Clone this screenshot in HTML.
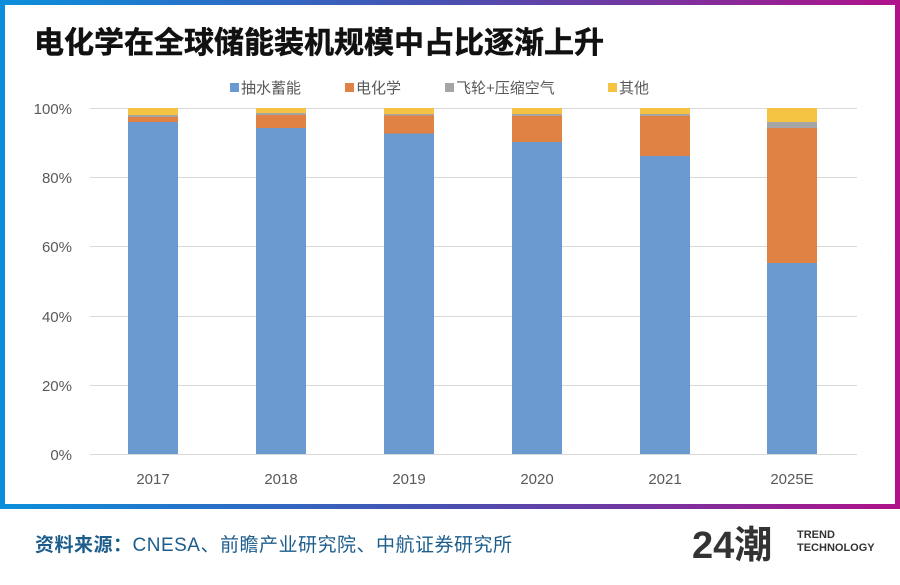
<!DOCTYPE html>
<html><head><meta charset="utf-8"><style>
body{margin:0;width:900px;height:585px;background:#fff;position:relative;overflow:hidden;font-family:"Liberation Sans","Noto Sans CJK SC",sans-serif}
.frame{position:absolute;left:0;top:0;width:900px;height:509px;background:linear-gradient(90deg,#0a8fdc,#4a4fb0 50%,#b0128a)}
.inner{position:absolute;left:5px;top:5px;width:890px;height:499px;background:#fff}
</style></head><body>
<div class="frame"><div class="inner"></div></div>
<svg width="900" height="585" style="position:absolute;left:0;top:0" font-family="Liberation Sans, Noto Sans CJK SC, sans-serif">
<text x="34" y="53" font-size="30" font-weight="bold" fill="#111" stroke="#111" stroke-width="0.5">电化学在全球储能装机规模中占比逐渐上升</text>
<g font-size="15" fill="#595959">
<rect x="230" y="83" width="9" height="9" fill="#6a9ad0"/><text x="241" y="93">抽水蓄能</text>
<rect x="345" y="83" width="9" height="9" fill="#e08244"/><text x="356" y="93">电化学</text>
<rect x="445" y="83" width="9" height="9" fill="#a5a5a5"/><text x="456" y="93">飞轮+压缩空气</text>
<rect x="608" y="83" width="9" height="9" fill="#f5c342"/><text x="619" y="93">其他</text>
</g>
<g stroke="#d9d9d9" stroke-width="1">
<line x1="90" x2="857" y1="108.5" y2="108.5"/><line x1="90" x2="857" y1="177.5" y2="177.5"/><line x1="90" x2="857" y1="246.5" y2="246.5"/><line x1="90" x2="857" y1="316.5" y2="316.5"/><line x1="90" x2="857" y1="385.5" y2="385.5"/><line x1="90" x2="857" y1="454.5" y2="454.5"/>
</g>
<g font-size="15" fill="#595959" text-anchor="end">
<text x="72" y="114">100%</text><text x="72" y="183">80%</text><text x="72" y="252">60%</text><text x="72" y="322">40%</text><text x="72" y="391">20%</text><text x="72" y="460">0%</text>
</g>
<g>
<rect x="128" y="108" width="50" height="7" fill="#f5c342"/><rect x="128" y="115" width="50" height="2" fill="#a5a5a5"/><rect x="128" y="117" width="50" height="5" fill="#e08244"/><rect x="128" y="122" width="50" height="332" fill="#6a9ad0"/>
<rect x="256" y="108" width="50" height="5" fill="#f5c342"/><rect x="256" y="113" width="50" height="2" fill="#a5a5a5"/><rect x="256" y="115" width="50" height="13" fill="#e08244"/><rect x="256" y="128" width="50" height="326" fill="#6a9ad0"/>
<rect x="384" y="108" width="50" height="6" fill="#f5c342"/><rect x="384" y="114" width="50" height="1.5" fill="#a5a5a5"/><rect x="384" y="115.5" width="50" height="18" fill="#e08244"/><rect x="384" y="133.5" width="50" height="320.5" fill="#6a9ad0"/>
<rect x="512" y="108" width="50" height="6" fill="#f5c342"/><rect x="512" y="114" width="50" height="2" fill="#a5a5a5"/><rect x="512" y="116" width="50" height="26" fill="#e08244"/><rect x="512" y="142" width="50" height="312" fill="#6a9ad0"/>
<rect x="640" y="108" width="50" height="6" fill="#f5c342"/><rect x="640" y="114" width="50" height="2" fill="#a5a5a5"/><rect x="640" y="116" width="50" height="40" fill="#e08244"/><rect x="640" y="156" width="50" height="298" fill="#6a9ad0"/>
<rect x="767" y="108" width="50" height="14" fill="#f5c342"/><rect x="767" y="122" width="50" height="6" fill="#a5a5a5"/><rect x="767" y="128" width="50" height="135" fill="#e08244"/><rect x="767" y="263" width="50" height="191" fill="#6a9ad0"/>
</g>
<g font-size="15" fill="#595959" text-anchor="middle">
<text x="153" y="484">2017</text><text x="281" y="484">2018</text><text x="409" y="484">2019</text><text x="537" y="484">2020</text><text x="665" y="484">2021</text><text x="792" y="484">2025E</text>
</g>
<text x="35" y="551" font-size="19" fill="#1d5d8c" letter-spacing="0.5"><tspan font-weight="bold">资料来源：</tspan>CNESA、前瞻产业研究院、中航证券研究所</text>
<text x="692" y="558" font-size="38" font-weight="bold" fill="#333">24潮</text>
<text x="797" y="538" font-size="11" font-weight="bold" fill="#333">TREND</text>
<text x="797" y="551" font-size="11" font-weight="bold" fill="#333">TECHNOLOGY</text>
</svg>
</body></html>
